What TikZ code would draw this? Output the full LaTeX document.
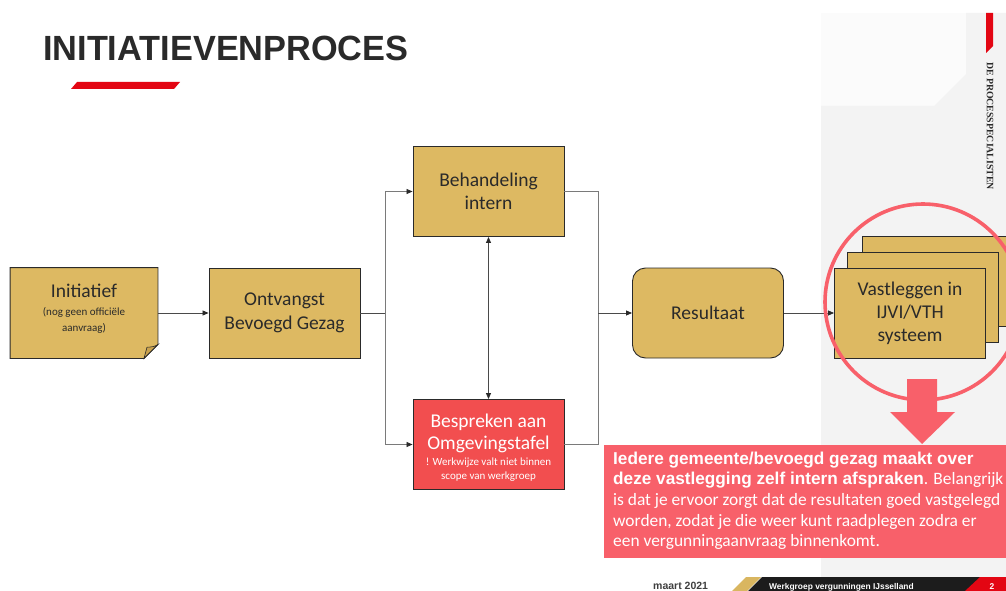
\documentclass[tikz,border=0pt]{standalone}
\usepackage{fontspec}
\setmainfont{Carlito}
\newfontfamily\arialb{Liberation Sans}
\newfontfamily\serifb{Liberation Serif}
\usetikzlibrary{arrows.meta}
\definecolor{gold}{HTML}{DDB962}
\definecolor{golddark}{HTML}{C9A24E}
\definecolor{boxred}{HTML}{F24E4F}
\definecolor{salmon}{HTML}{F8606A}
\definecolor{panel}{HTML}{F3F3F3}
\definecolor{panellight}{HTML}{FBFBFB}
\definecolor{ink}{HTML}{2A2A2A}
\definecolor{linegrey}{HTML}{7A7A7A}
\definecolor{brandred}{HTML}{E30613}
\definecolor{footgold}{HTML}{D9B660}
\definecolor{footblack}{HTML}{1C1C1C}
\newcommand{\smtxt}{\fontsize{11}{14}\selectfont}
\newcommand{\notebold}{\arialb\bfseries\fontsize{17.2}{20.7}\selectfont}
\newcommand{\notereg}{\fontsize{17.4}{20.7}\selectfont}
\tikzset{
  procbox/.style={draw=ink, line width=0.9pt, fill=gold, minimum width=151pt, minimum height=90pt, inner sep=0pt, align=center, text=ink, font=\fontsize{19.5}{23}\selectfont},
  boxtext/.style={align=center, inner sep=0pt, font=\fontsize{19.5}{23}\selectfont},
  conn/.style={draw=linegrey, line width=0.8pt},
  tip/.style={-{Triangle[length=6pt,width=5pt,color=ink]}},
  dtip/.style={{Triangle[length=6pt,width=5pt,color=ink]}-{Triangle[length=6pt,width=5pt,color=ink]}},
}
\begin{document}
\begin{tikzpicture}[x=1pt,y=-1pt]
\useasboundingbox (0,0) rectangle (1006,591);
\clip (0,0) rectangle (1006,591);
% background panels
\fill[panellight] (821,13) rectangle (966,106);
\fill[panel] (821,106) -- (934,106) -- (966,74) -- (966,13) -- (1006,13) -- (1006,591) -- (821,591) -- cycle;
\fill[brandred] (986,13) -- (993,13) -- (993,46) -- (986,53) -- cycle;
\node[rotate=-90, anchor=center, inner sep=0pt, text=ink, font=\serifb\bfseries\fontsize{9.8}{11}\selectfont] (brand) at (990,126) {DE PROCESSPECIALISTEN};
% title
\node[anchor=base west, inner sep=0pt, text=ink, font=\arialb\bfseries\fontsize{35}{40}\selectfont] (title) at (43,61) {\scalebox{0.98}[1]{INITIATIEVENPROCES}};
\fill[brandred] (71,89) -- (77,82) -- (180,82) -- (174,89) -- cycle;
% nodes
\node[procbox, draw=none, fill=none, minimum width=147pt] (init) at (84,313) {};
\filldraw[fill=gold, draw=ink, line width=0.9pt] (init.north west) -- (init.north east) -- ([yshift=14pt]init.south east) -- ([xshift=-14pt]init.south east) -- (init.south west) -- cycle;
\filldraw[fill=golddark, draw=ink, line width=0.6pt] ([yshift=14pt]init.south east) .. controls ([xshift=-6pt,yshift=10pt]init.south east) and ([xshift=-12pt,yshift=12pt]init.south east) .. ([xshift=-11pt,yshift=11pt]init.south east) .. controls ([xshift=-13pt,yshift=6pt]init.south east) .. ([xshift=-14pt]init.south east) -- cycle;
\node[boxtext, text=ink] (inittext) at (84,309) {Initiatief\\[-5pt]\smtxt (nog geen officiële\\[-7pt]\smtxt aanvraag)};
\node[procbox] (ontv) at (284.5,313) {Ontvangst\\[1pt]Bevoegd Gezag};
\node[procbox] (behan) at (488.5,191.5) {Behandeling\\intern};
\node[procbox, fill=boxred] (bespr) at (488.5,444.5) {};
\node[boxtext, text=white] (besprtext) at (488.5,447.5) {Bespreken aan\\[-1pt]Omgevingstafel\\[-7pt]\smtxt ! Werkwijze valt niet binnen\\[-9pt]\smtxt scope van werkgroep};
\node[procbox, rounded corners=13pt] (result) at (708,313) {Resultaat};
\node[procbox] (vast3) at (938,281) {};
\node[procbox] (vast2) at (923,297.5) {};
\node[procbox] (vast) at (910,313) {Vastleggen in\\IJVI/VTH\\systeem};
% connectors
\coordinate (split) at (385,313);
\coordinate (merge) at (598,313);
\draw[conn, draw=ink!85, tip] (init.east) -- (ontv.west);
\draw[conn, draw=ink!85] (ontv.east) -- (split);
\draw[conn, tip] (split) |- (behan.west);
\draw[conn, tip] (split) |- (bespr.west);
\draw[conn] (behan.east) -| (merge);
\draw[conn] (bespr.east) -| (merge);
\draw[conn, draw=ink!85, tip] (merge) -- (result.west);
\draw[conn, draw=ink!85, dtip] (behan.south) -- (bespr.north);
\draw[conn, draw=ink!85, tip] (result.east) -- (vast.west);
% highlight circle and arrow
\node[draw=salmon, line width=3.6pt, circle, minimum size=196pt, inner sep=0pt] (ring) at (923,302) {};
\fill[salmon] (907,379) -- (937,379) -- (937,412) -- (955,412) -- (922,444) -- (890,412) -- (907,412) -- cycle;
% note box
\fill[salmon] (604,445) rectangle (1006,558);
\node[anchor=north west, inner sep=0pt, align=left, text=white, font=\notereg] (note) at (613,451.5)
 {\notebold Iedere gemeente/bevoegd gezag maakt over\\
  \notebold deze vastlegging zelf intern afspraken\notereg\normalfont\notereg. Belangrijk\\
  \notereg is dat je ervoor zorgt dat de resultaten goed vastgelegd\\
  \notereg worden, zodat je die weer kunt raadplegen zodra er\\
  \notereg een vergunningaanvraag binnenkomt.};
% footer
\fill[footgold] (732,591) -- (746,577) -- (761,577) -- (747,591) -- cycle;
\fill[footblack] (748,591) -- (762,577) -- (1006,577) -- (1006,591) -- cycle;
\fill[brandred] (965,591) -- (980,577) -- (1006,577) -- (1006,591) -- cycle;
\node[anchor=base west, inner sep=0pt, text=ink!90, font=\arialb\bfseries\fontsize{10.5}{12}\selectfont] (date) at (653,589.5) {maart 2021};
\node[anchor=base west, inner sep=0pt, text=white, font=\arialb\bfseries\fontsize{8.4}{10}\selectfont] (wg) at (769,589) {Werkgroep vergunningen IJsselland};
\node[anchor=base, inner sep=0pt, text=white, font=\arialb\bfseries\fontsize{8.4}{10}\selectfont] (page) at (992,589) {2};
\end{tikzpicture}
\end{document}
